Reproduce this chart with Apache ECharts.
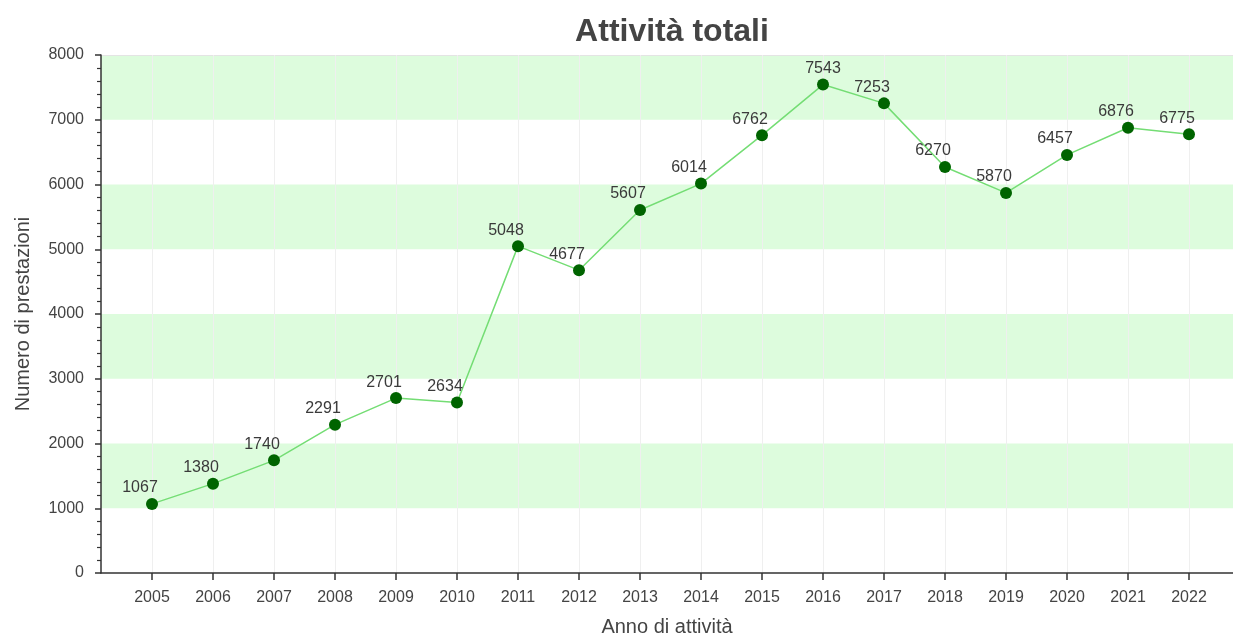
<!DOCTYPE html>
<html>
<head>
<meta charset="utf-8">
<script src="https://cdn.jsdelivr.net/npm/echarts@6/dist/echarts.min.js"></script>
<style>
  html, body { margin: 0; padding: 0; background: #fff; }
  #chart { width: 1233px; height: 636px; }
</style>
</head>
<body>
<div id="chart"></div>
<script>
const years = [2005, 2006, 2007, 2008, 2009, 2010, 2011, 2012, 2013, 2014, 2015, 2016, 2017, 2018, 2019, 2020, 2021, 2022];
const totals = [1067, 1380, 1740, 2291, 2701, 2634, 5048, 4677, 5607, 6014, 6762, 7543, 7253, 6270, 5870, 6457, 6876, 6775];
const yTicks = [0, 1000, 2000, 3000, 4000, 5000, 6000, 7000, 8000];

const chart = echarts.init(document.getElementById('chart'));

const peak = Math.max(...totals);
const points = years.map((y, i) => {
  const p = { value: [y, totals[i]] };
  if (totals[i] === peak) p.label = { offset: [0, 0] };
  return p;
});

// only the top grid line shows
const hLines = yTicks.map((t, i) => (i === yTicks.length - 1 ? '#e4e4e4' : 'rgba(0,0,0,0)'));

const option = {
  animation: false,
  textStyle: { fontFamily: 'Arial, "Liberation Sans", sans-serif' },
  title: {
    text: 'Attività totali',
    left: 667,
    textAlign: 'center',
    top: 11,
    textStyle: { fontSize: 32, fontWeight: 'bold', color: '#444' }
  },
  grid: { left: 101, right: 0, top: 55, bottom: 63, outerBoundsMode: 'none', containLabel: false },
  xAxis: {
    type: 'value',
    min: 2005 - 51 / 61,
    max: 2022 + 44 / 61,
    name: 'Anno di attività',
    nameLocation: 'middle',
    nameGap: 44,
    nameTextStyle: { fontSize: 20, color: '#444' },
    axisLine: { lineStyle: { color: '#333', width: 1.5 } },
    axisTick: { customValues: years, length: 7, lineStyle: { color: '#333', width: 1.5 } },
    axisLabel: {
      customValues: years,
      formatter: v => String(v),
      fontSize: 16,
      color: '#444',
      margin: 17
    },
    splitLine: { show: true, lineStyle: { color: '#efefef', width: 1 } }
  },
  yAxis: {
    type: 'value',
    min: 0,
    max: 8000,
    interval: 1000,
    name: 'Numero di prestazioni',
    nameLocation: 'middle',
    nameGap: 68,
    nameTextStyle: { fontSize: 20, color: '#444' },
    axisLine: { show: true, lineStyle: { color: '#333', width: 1.5 } },
    axisTick: { show: true, length: 6, lineStyle: { color: '#333', width: 1.5 } },
    minorTick: { show: true, splitNumber: 5, length: 4, lineStyle: { color: '#333', width: 1.2 } },
    axisLabel: { fontSize: 16, color: '#444', margin: 17, formatter: v => String(v) },
    splitLine: { show: true, lineStyle: { color: hLines, width: 1 } },
    splitArea: { show: true, areaStyle: { color: ['rgba(0,0,0,0)', '#ddfcdd'] } }
  },
  series: [{
    type: 'line',
    data: points,
    symbol: 'circle',
    symbolSize: 12,
    itemStyle: { color: '#006400' },
    lineStyle: { color: '#74dd74', width: 1.5 },
    label: {
      show: true,
      position: 'top',
      distance: 2,
      offset: [-12, 0],
      fontSize: 16,
      color: '#3a3a3a'
    }
  }]
};

chart.setOption(option);
</script>
</body>
</html>
